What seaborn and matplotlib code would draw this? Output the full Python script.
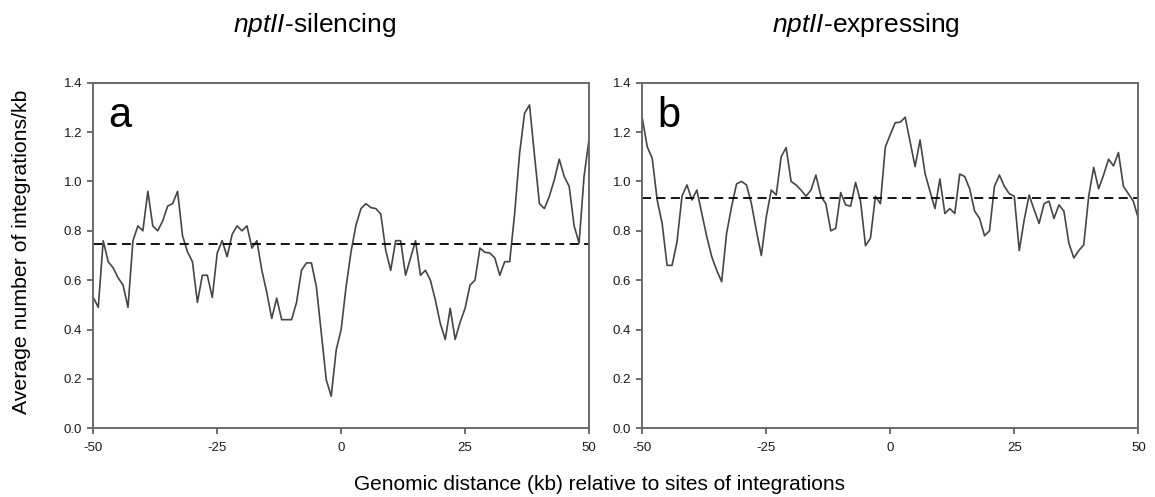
import numpy as np
import pandas as pd
import matplotlib
matplotlib.use("Agg")
import matplotlib.pyplot as plt
import seaborn as sns

# ---- data ----
distance_kb = list(range(-50, 51))

silencing = [
    0.53, 0.49, 0.76, 0.675, 0.65, 0.61, 0.58, 0.49, 0.76, 0.82,
    0.80, 0.96, 0.82, 0.80, 0.84, 0.90, 0.91, 0.96, 0.78, 0.715,
    0.675, 0.51, 0.62, 0.62, 0.53, 0.71, 0.76, 0.695, 0.785, 0.82,
    0.80, 0.82, 0.73, 0.76, 0.64, 0.55, 0.445, 0.527, 0.44, 0.44,
    0.44, 0.51, 0.64, 0.67, 0.67, 0.574, 0.385, 0.196, 0.13, 0.317,
    0.40, 0.574, 0.716, 0.824, 0.89, 0.91, 0.894, 0.89, 0.868, 0.72,
    0.64, 0.76, 0.76, 0.62, 0.69, 0.76, 0.62, 0.64, 0.60, 0.52,
    0.425, 0.36, 0.486, 0.36, 0.43, 0.486, 0.58, 0.60, 0.73, 0.713,
    0.71, 0.69, 0.62, 0.675, 0.675, 0.87, 1.114, 1.276, 1.31, 1.107,
    0.91, 0.89, 0.94, 1.006, 1.09, 1.02, 0.98, 0.82, 0.75, 1.02,
    1.17,
]

expressing = [
    1.256, 1.14, 1.094, 0.925, 0.83, 0.66, 0.66, 0.756, 0.94, 0.986,
    0.925, 0.965, 0.87, 0.776, 0.695, 0.64, 0.594, 0.79, 0.898, 0.99,
    1.0, 0.986, 0.91, 0.80, 0.70, 0.857, 0.965, 0.945, 1.10, 1.137,
    1.0, 0.986, 0.965, 0.94, 0.965, 1.026, 0.94, 0.91, 0.80, 0.81,
    0.955, 0.905, 0.90, 0.996, 0.92, 0.74, 0.77, 0.94, 0.91, 1.14,
    1.19, 1.238, 1.24, 1.26, 1.16, 1.06, 1.168, 1.033, 0.96, 0.89,
    1.01, 0.87, 0.89, 0.87, 1.03, 1.02, 0.97, 0.88, 0.85, 0.78,
    0.80, 0.98, 1.026, 0.98, 0.95, 0.94, 0.72, 0.845, 0.945, 0.885,
    0.83, 0.91, 0.92, 0.85, 0.905, 0.88, 0.75, 0.69, 0.72, 0.743,
    0.94, 1.057, 0.97, 1.026, 1.09, 1.063, 1.117, 0.98, 0.95, 0.92,
    0.85,
]

mean_lines = [0.746, 0.934]
panel_letters = ["a", "b"]
x_ticks = [-50, -25, 0, 25, 50]
y_ticks = [0.0, 0.2, 0.4, 0.6, 0.8, 1.0, 1.2, 1.4]

sns.set_theme(style="white")
plt.rcParams['font.family'] = ['Liberation Sans', 'DejaVu Sans']
plt.rcParams['mathtext.fontset'] = 'custom'
plt.rcParams['mathtext.it'] = 'Liberation Sans:italic'
plt.rcParams['mathtext.rm'] = 'Liberation Sans'
plt.rcParams['text.color'] = 'black'

fig = plt.figure(figsize=(11.55, 4.97), dpi=100)
W, H = 1155, 497
axes = [
    fig.add_axes([93.3 / W, 1 - 428.3 / H, 495.7 / W, 345.6 / H]),
    fig.add_axes([642.3 / W, 1 - 428.3 / H, 496.0 / W, 345.6 / H]),
]

series = [silencing, expressing]
for ax, vals, mline, letter in zip(axes, series, mean_lines, panel_letters):
    df = pd.DataFrame({"x": distance_kb, "y": vals})
    sns.lineplot(data=df, x="x", y="y", ax=ax, color="#454545", linewidth=1.2)
    ax.axhline(mline, color="black", linestyle=(0, (5, 3)), linewidth=1.3)
    ax.set_xlim(-50, 50)
    ax.set_ylim(0, 1.4)
    ax.set_xticks(x_ticks)
    ax.set_xticklabels([str(t) for t in x_ticks])
    ax.set_yticks(y_ticks)
    ax.set_yticklabels([f"{t:.1f}" for t in y_ticks])
    ax.set_xlabel("")
    ax.set_ylabel("")
    ax.tick_params(axis="both", which="major", direction="out", length=4, width=1.2,
                   color="#555555", labelsize=9.5, labelcolor="#1a1a1a",
                   bottom=True, left=True)
    ax.tick_params(axis="x", pad=6)
    ax.tick_params(axis="y", pad=4)
    for s in ax.spines.values():
        s.set_color("#6a6a6a")
        s.set_linewidth(1.4)
    ax.text(0.03, 0.872, letter, transform=ax.transAxes, fontsize=30,
            va="baseline", ha="left", color="black")

# titles
fig.text(315 / W, 1 - 32 / H, r"$\it{nptII}$" + "-silencing", ha="center", va="baseline", fontsize=19)
fig.text(866 / W, 1 - 32 / H, r"$\it{nptII}$" + "-expressing", ha="center", va="baseline", fontsize=19)

fig.text(600 / W, 1 - 484 / H, "Genomic distance (kb) relative to sites of integrations",
         ha="center", va="center", fontsize=15)
fig.text(22 / W, 1 - 252 / H, "Average number of integrations/kb", rotation=90,
         ha="center", va="center", fontsize=15.3)

fig.savefig("out.png", dpi=100, facecolor="white")
